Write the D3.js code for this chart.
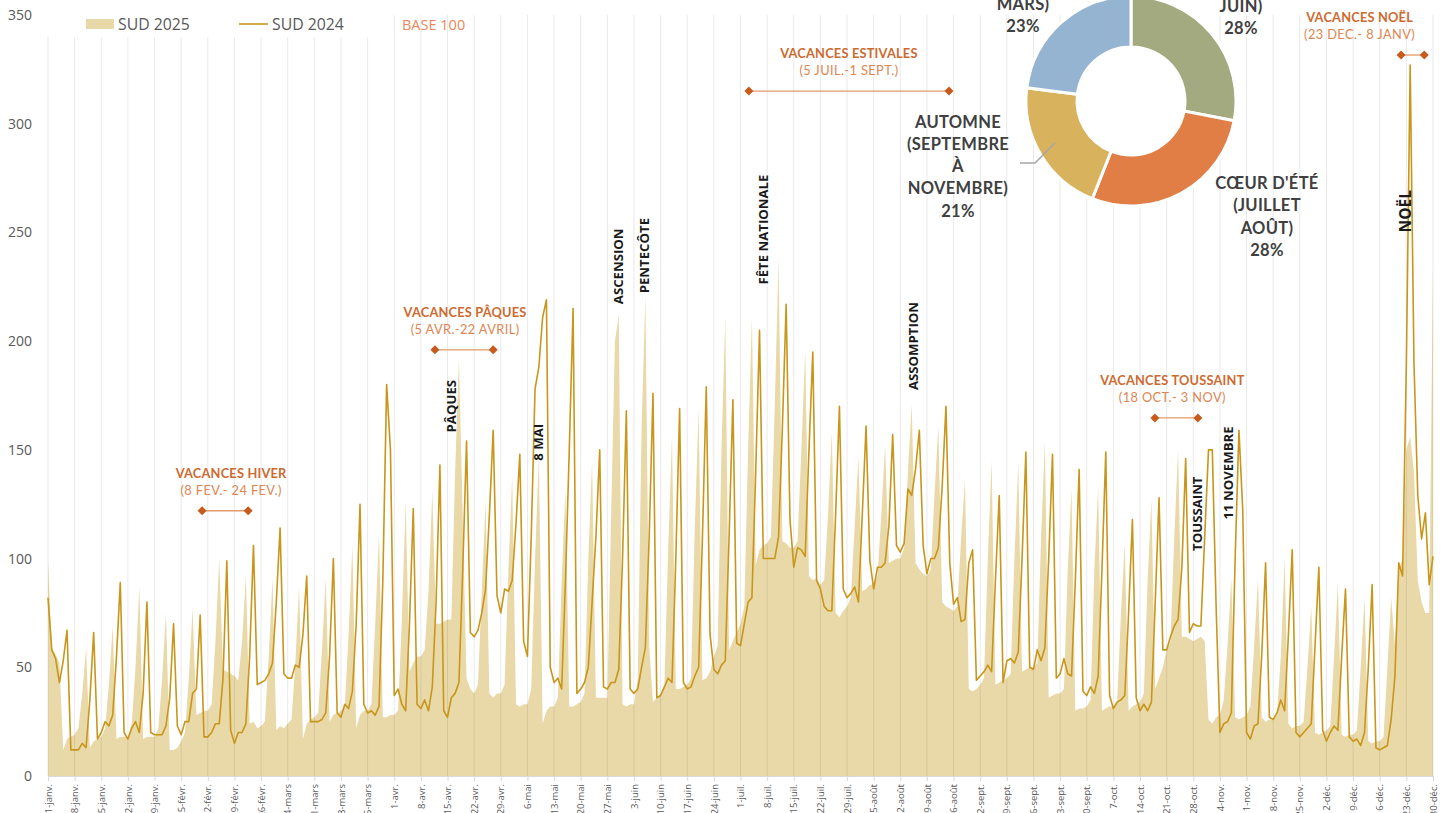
<!DOCTYPE html>
<html><head><meta charset="utf-8">
<script src="https://cdn.jsdelivr.net/npm/d3@7"></script>
<style>
html,body{margin:0;padding:0;background:#fff;}
svg{display:block;}
text{font-family:"Open Sans",sans-serif;}
</style></head><body>
<svg id="c" width="1450" height="813"></svg>
<script>
// ---------------- DATA ----------------
const sud2025 = [
99,59,56,52,12,17,18,
19,22,38,59,13,16,17,
18,22,42,69,17,18,18,
18,24,50,87,17,18,18,
18,22,45,75,12,12,13,
16,20,45,77,28,29,30,
30,33,62,100,49,48,47,
46,44,62,92,24,25,22,
23,25,55,91,21,23,22,
24,26,52,87,17,24,26,
27,29,58,91,25,28,29,
30,32,65,106,22,28,30,
30,33,70,112,27,27,28,
28,30,72,126,48,52,55,
55,58,85,131,70,70,71,
72,72,140,192,120,45,40,
38,42,85,126,38,36,38,
38,42,95,138,33,32,33,
33,40,100,147,24,30,32,
32,36,90,132,32,32,33,
34,38,100,145,36,36,36,
36,120,200,212,33,32,33,
33,45,160,221,60,34,36,
38,42,105,156,40,40,41,
42,45,115,169,44,45,48,
55,60,150,211,58,62,66,
70,78,150,211,97,104,106,
107,110,170,238,108,107,105,
105,108,150,196,92,90,91,
88,90,120,158,75,73,76,
78,82,115,147,85,86,88,
88,92,120,152,98,99,100,
100,105,140,171,98,95,93,
92,95,130,161,80,78,77,
76,78,110,136,40,39,40,
42,45,100,145,42,43,44,
45,47,100,144,48,49,50,
50,52,110,154,36,37,38,
38,40,95,132,30,31,31,
32,35,95,133,30,31,32,
32,35,75,107,30,32,33,
34,38,90,127,40,45,50,
58,62,110,150,64,64,63,
62,63,64,62,26,24,27,
28,35,60,91,27,26,27,
28,32,60,91,27,25,26,
26,28,55,100,24,22,23,
23,25,50,78,20,19,20,
21,23,55,89,19,18,19,
19,21,50,82,16,15,16,
16,18,50,82,60,95,100,
150,156,140,90,80,75,75,
235
];
const sud2024 = [
82,58,54,43,53,67,12,
12,12,15,13,35,66,17,
20,25,23,28,55,89,20,
17,22,25,20,38,80,20,
19,19,19,23,36,70,23,
19,25,25,38,40,74,18,
18,20,24,24,45,99,21,
15,20,20,24,55,106,42,
43,44,47,52,80,114,47,
45,45,51,50,65,92,25,
25,25,26,29,55,100,29,
27,33,31,39,70,125,33,
29,30,28,32,90,180,150,
37,40,33,30,70,123,33,
31,35,30,41,80,143,30,
27,36,38,43,95,154,66,
64,67,75,86,120,159,83,
75,86,85,90,116,148,62,
55,110,178,188,211,219,50,
43,45,40,90,150,215,38,
40,43,50,80,110,150,41,
40,43,43,49,100,168,40,
38,40,50,59,110,176,36,
37,41,45,43,100,169,43,
40,41,46,50,110,179,65,
49,47,51,53,110,173,61,
60,70,80,82,140,205,100,
100,100,100,110,160,217,118,
96,105,104,101,150,195,90,
86,78,76,76,120,170,86,
82,84,87,80,120,161,99,
86,96,96,98,115,157,106,
103,107,132,129,141,159,106,
93,100,100,105,133,170,98,
79,82,71,72,98,104,44,
46,48,51,48,90,129,43,
53,54,52,57,100,149,50,
49,58,53,59,100,148,45,
47,54,47,46,90,141,39,
37,41,38,46,95,149,37,
31,34,35,37,75,118,36,
30,33,30,34,80,128,58,
58,64,69,72,96,146,66,
70,69,69,110,150,150,78,
20,24,25,29,100,159,122,
20,17,23,24,56,98,27,
26,29,35,30,65,104,20,
18,20,22,24,60,96,21,
16,20,23,21,55,86,18,
16,17,14,20,50,88,13,
12,13,14,26,46,98,92,
190,327,190,129,109,121,88,
101
];
const tickLabels = ["1-janv.","8-janv.","15-janv.","22-janv.","29-janv.","5-févr.","12-févr.","19-févr.","26-févr.","4-mars","11-mars","18-mars","25-mars","1-avr.","8-avr.","15-avr.","22-avr.","29-avr.","6-mai","13-mai","20-mai","27-mai","3-juin","10-juin","17-juin","24-juin","1-juil.","8-juil.","15-juil.","22-juil.","29-juil.","5-août","12-août","19-août","26-août","2-sept.","9-sept.","16-sept.","23-sept.","30-sept.","7-oct.","14-oct.","21-oct.","28-oct.","4-nov.","11-nov.","18-nov.","25-nov.","2-déc.","9-déc.","16-déc.","23-déc.","30-déc."];
const yTicks = [0,50,100,150,200,250,300,350];
const seriesNames = ["SUD 2025","SUD 2024"];
// Donut (clockwise from top)
const seasonNames = ["PRINTEMPS","ÉTÉ","AUTOMNE","HIVER"];
const seasonShares = [28,28,21,23];
const seasonColors = ["#A4AA7F","#E07E46","#D9B25D","#95B4D2"];
// Public holidays (day index, label bottom value)
const holidayNames = ["PÂQUES","8 MAI","ASCENSION","PENTECÔTE","FÊTE NATIONALE","ASSOMPTION","TOUSSAINT","11 NOVEMBRE","NOËL"];
const holidayDay   = [106,128.8,149.8,156.6,187.9,227.3,302,310.1,356.6];
const holidayBase  = [158,145,217,222,226,177.5,103.5,118,250];
// School vacations
const vacNames  = ["VACANCES HIVER","VACANCES PÂQUES","VACANCES ESTIVALES","VACANCES TOUSSAINT","VACANCES NOËL"];
const vacDates  = ["(8 FEV.- 24 FEV.)","(5 AVR.-22 AVRIL)","(5 JUIL.-1 SEPT.)","(18 OCT.- 3 NOV)","(23 DEC.- 8 JANV)"];
const vacStart  = [40.5,101.7,184.2,290.9,355.6];
const vacEnd    = [52.6,117.0,236.8,302.2,361.7];
const vacLevel  = [122,196,315,164.7,331.6];
const vacTextDx = [6,1,0,-4,-53];

// ---------------- CHART ----------------
const svg = d3.select("#c");
const dates = d3.utcDay.range(new Date(Date.UTC(2024,0,1)), new Date(Date.UTC(2024,11,31)));
const x = d3.scaleUtc().domain([dates[0], dates[dates.length-1]]).range([48,1433]);
const y = d3.scaleLinear().domain([0,350]).range([776,15]);
const xi = i => x(dates[0]) + (x(dates[dates.length-1]) - x(dates[0])) * i/(dates.length-1);
const tickDates = dates.filter((d,i)=> i%7===0);

// area 2025
const area = d3.area().x((d,i)=>x(dates[i])).y0(y(0)).y1(d=>y(d));
svg.append("path").datum(sud2025).attr("d",area).attr("fill","#E9D9A9");

// vertical gridlines
svg.append("g").selectAll("line").data(tickDates).join("line")
  .attr("x1",d=>x(d)).attr("x2",d=>x(d)).attr("y1",y(350)).attr("y2",y(0))
  .attr("stroke","#000").attr("stroke-opacity",0.085).attr("stroke-width",1);

// x axis
const xAxis = svg.append("g").attr("transform",`translate(0,${y(0)})`)
  .call(d3.axisBottom(x).tickValues(tickDates).tickFormat((d,i)=>tickLabels[i]).tickSize(5).tickSizeOuter(0));
xAxis.select(".domain").attr("stroke","#D9D9D9");
xAxis.selectAll(".tick line").attr("stroke","#D9D9D9");
xAxis.selectAll(".tick text").attr("transform","rotate(-90)").attr("text-anchor","end")
  .attr("x",-8).attr("y",0).attr("dy","0.33em").attr("fill","#595959")
  .style("font-size","9.5px").style("font-family","Open Sans");

// y axis
const yAxis = svg.append("g").attr("transform",`translate(48,0)`)
  .call(d3.axisLeft(y).tickValues(yTicks).tickSize(0).tickPadding(16));
yAxis.select(".domain").remove();
yAxis.selectAll("text").attr("fill","#595959").style("font-size","14px").style("font-family","Open Sans");

// line 2024
const line = d3.line().x((d,i)=>x(dates[i])).y(d=>y(d));
svg.append("path").datum(sud2024).attr("d",line).attr("fill","none")
  .attr("stroke","#C8961A").attr("stroke-width",1.6).attr("stroke-linejoin","round");

// holiday labels
holidayNames.forEach((n,k)=>{
  const px = xi(holidayDay[k]), py = y(holidayBase[k]);
  svg.append("text").attr("transform",`translate(${px},${py}) rotate(-90)`)
    .attr("text-anchor","start").attr("dominant-baseline","central")
    .attr("fill","#1A1A1A").style("font-weight","700")
    .style("font-size", n==="NOËL" ? "15.5px" : "13.2px")
    .style("font-family","Open Sans").text(n);
});

// vacations
vacNames.forEach((n,k)=>{
  const x1 = xi(vacStart[k]), x2 = xi(vacEnd[k]), py = y(vacLevel[k]);
  const cx = (x1+x2)/2 + vacTextDx[k];
  const g = svg.append("g");
  g.append("line").attr("x1",x1).attr("x2",x2).attr("y1",py).attr("y2",py)
    .attr("stroke","#E39A6B").attr("stroke-width",1.3);
  [x1,x2].forEach(px=>{
    g.append("path").attr("d",`M${px},${py-4.5}L${px+4.5},${py}L${px},${py+4.5}L${px-4.5},${py}Z`).attr("fill","#C85A1C");
  });
  g.append("text").attr("x",cx).attr("y",py-33).attr("text-anchor","middle")
    .attr("fill","#CD6A30").style("font-weight","700").style("font-size","12.8px")
    .style("font-family","Lato").style("letter-spacing","0.2px").text(n);
  g.append("text").attr("x",cx).attr("y",py-16).attr("text-anchor","middle")
    .attr("fill","#DE8552").style("font-size","12.8px")
    .style("font-family","Lato").style("letter-spacing","0.4px").text(vacDates[k]);
});

// legend (white backdrop)
svg.append("rect").attr("x",40).attr("y",0).attr("width",352).attr("height",37).attr("fill","#fff");
const lg = svg.append("g");
lg.append("rect").attr("x",86).attr("y",19).attr("width",28).attr("height",10).attr("fill","#E9D9A9");
lg.append("text").attr("x",118).attr("y",30).attr("fill","#595959").style("font-size","15.8px").text(seriesNames[0]);
lg.append("line").attr("x1",239).attr("x2",268).attr("y1",24).attr("y2",24).attr("stroke","#C8961A").attr("stroke-width",1.6);
lg.append("text").attr("x",272).attr("y",30).attr("fill","#595959").style("font-size","15.8px").text(seriesNames[1]);
lg.append("text").attr("x",402).attr("y",30).attr("fill","#E8875A").style("font-size","14.5px").text("BASE 100");

// donut
const cxD = 1131, cyD = 101, rO = 105, rI = 54;
const pie = d3.pie().sort(null).value(d=>d).startAngle(0).endAngle(2*Math.PI);
const arc = d3.arc().innerRadius(rI).outerRadius(rO);
const dg = svg.append("g").attr("transform",`translate(${cxD},${cyD})`);
dg.append("circle").attr("r",rI).attr("fill","#fff");
dg.selectAll("path").data(pie(seasonShares)).join("path")
  .attr("d",arc).attr("fill",(d,i)=>seasonColors[i]).attr("stroke","#fff").attr("stroke-width",3);

const lblStyle = t => t.attr("text-anchor","middle").attr("fill","#404040")
  .style("font-weight","700").style("font-size","16.5px").style("font-family","Lato").style("letter-spacing","0.3px");
function multi(cx, base, lines){
  lines.forEach((l,j)=> svg.append("text").attr("x",cx).attr("y",base + j*22.3).call(lblStyle).text(l));
}
multi(1023, 10, ["MARS)", seasonShares[3]+"%"]);
multi(1241, 11.5, ["JUIN)", seasonShares[0]+"%"]);
multi(958, 127.5, ["AUTOMNE","(SEPTEMBRE","À","NOVEMBRE)", seasonShares[2]+"%"]);
multi(1267, 189, ["CŒUR D'ÉTÉ","(JUILLET","AOÛT)", seasonShares[1]+"%"]);
svg.append("path").attr("d","M1055,143L1035,163L1020,163").attr("fill","none").attr("stroke","#A6A6A6").attr("stroke-width",1.5);
</script>
</body></html>
